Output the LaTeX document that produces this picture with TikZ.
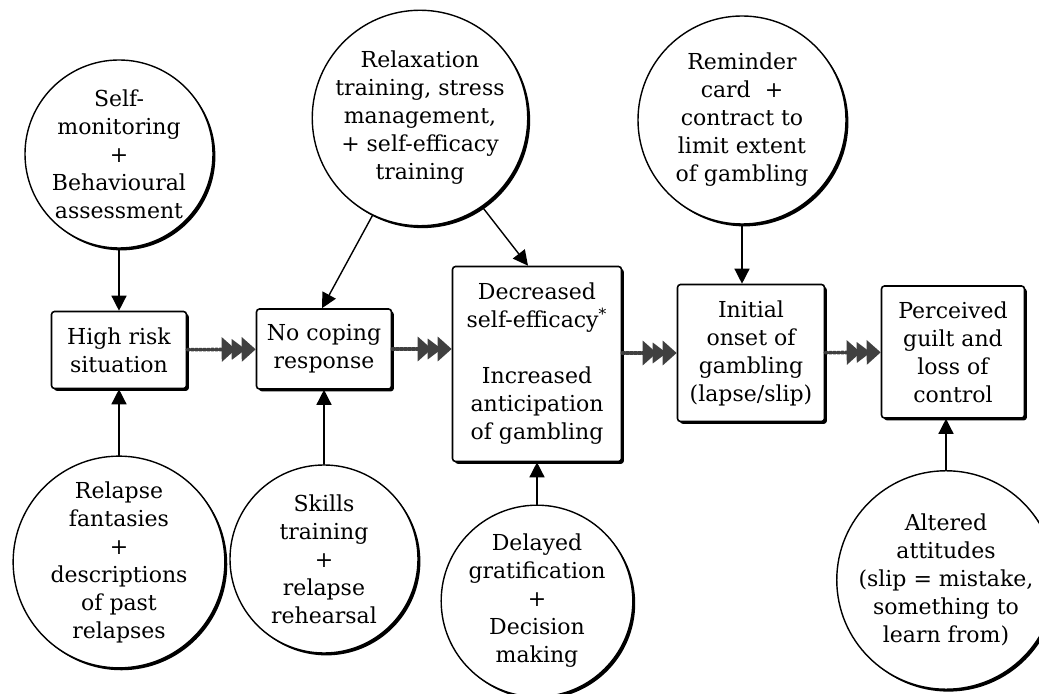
\documentclass[tikz,border=0pt]{standalone}
\usepackage{fontspec}
\setmainfont{DejaVu Serif}
\usetikzlibrary{arrows.meta,shadows}

\tikzset{
  stage/.style={draw,line width=0.8pt,rounded corners=1.5pt,fill=white,align=center,inner sep=1pt,
    font=\fontsize{11}{14}\selectfont,
    drop shadow={shadow xshift=1.2pt,shadow yshift=-1.2pt,opacity=1,fill=black}},
  remedy/.style={circle,draw,line width=0.7pt,fill=white,align=center,inner sep=0pt,
    font=\fontsize{11}{14}\selectfont,
    drop shadow={shadow xshift=1.2pt,shadow yshift=-1.2pt,opacity=1,fill=black}},
  feed/.style={line width=0.7pt,-{Triangle[length=7.5pt,width=7.5pt]}},
  flow/.style={line width=1.8pt,black!75,dash pattern=on 1.2pt off 0.8pt,
    -{Triangle[length=7pt,width=12pt,sep=-2pt]Triangle[length=7pt,width=10pt,sep=-2pt]Triangle[length=7pt,width=12pt]}}
}

\begin{document}
\begin{tikzpicture}[line cap=round,line join=round,x=0.5pt,y=-0.5pt]
		\useasboundingbox (0,0) rectangle (1039,694);
		\node[stage,minimum width=67.5pt,minimum height=38.5pt] (hirisk) at (119,350) {High risk\\situation};
		\node[stage,minimum width=67.5pt,minimum height=40pt] (nocope) at (324,349) {No coping\\response};
		\node[stage,minimum width=84.5pt,minimum height=97.5pt] (lowse) at (537,364) {Decreased\\self-efficacy\textsuperscript{*}\\[14pt]Increased\\anticipation\\of gambling};
		\node[stage,minimum width=73.5pt,minimum height=68.5pt] (lapse) at (751,353) {Initial\\onset of\\gambling\\(lapse/slip)};
		\node[stage,minimum width=71.5pt,minimum height=66pt] (guilt) at (953,352) {Perceived\\guilt and\\loss of\\control};
		\node[remedy,minimum size=94pt] (selfmon) at (119,154) {Self-\\monitoring\\+\\Behavioural\\assessment};
		\node[remedy,minimum size=103pt] (relax) at (420,118) {Relaxation\\training, stress\\management,\\+ self-efficacy\\training};
		\node[remedy,minimum size=104pt] (remind) at (742,120) {Reminder\\card\ \ +\\contract to\\limit extent\\of gambling};
		\node[remedy,minimum size=102pt] (fantasy) at (119,562) {Relapse\\fantasies\\+\\descriptions\\of past\\relapses};
		\node[remedy,minimum size=94pt] (skills) at (324,559) {Skills\\training\\+\\relapse\\rehearsal};
		\node[remedy,minimum size=94pt] (delay) at (537,601) {Delayed\\gratification\\+\\Decision\\making};
		\node[remedy,minimum size=102pt] (attitude) at (946,580) {Altered\\attitudes\\(slip = mistake,\\something to\\learn from)};
		\draw[flow] (hirisk) -- (nocope);
		\draw[flow] (nocope) -- (nocope -| lowse.west);
		\draw[flow] (lowse.east |- lapse) -- (lapse);
		\draw[flow] (lapse) -- (guilt);
		\draw[feed] (selfmon) -- (hirisk);
		\draw[feed] (fantasy) -- (hirisk);
		\draw[feed] (skills) -- (nocope);
		\draw[feed] (delay) -- (lowse);
		\draw[feed] (remind) -- (remind |- lapse.north);
		\draw[feed] (attitude) -- (attitude |- guilt.south);
		\draw[feed] (relax.-116) -- ([xshift=-1pt]nocope.north);
		\draw[feed] (relax.-55) -- ([xshift=-4.5pt]lowse.north);
	\end{tikzpicture}
\end{document}
